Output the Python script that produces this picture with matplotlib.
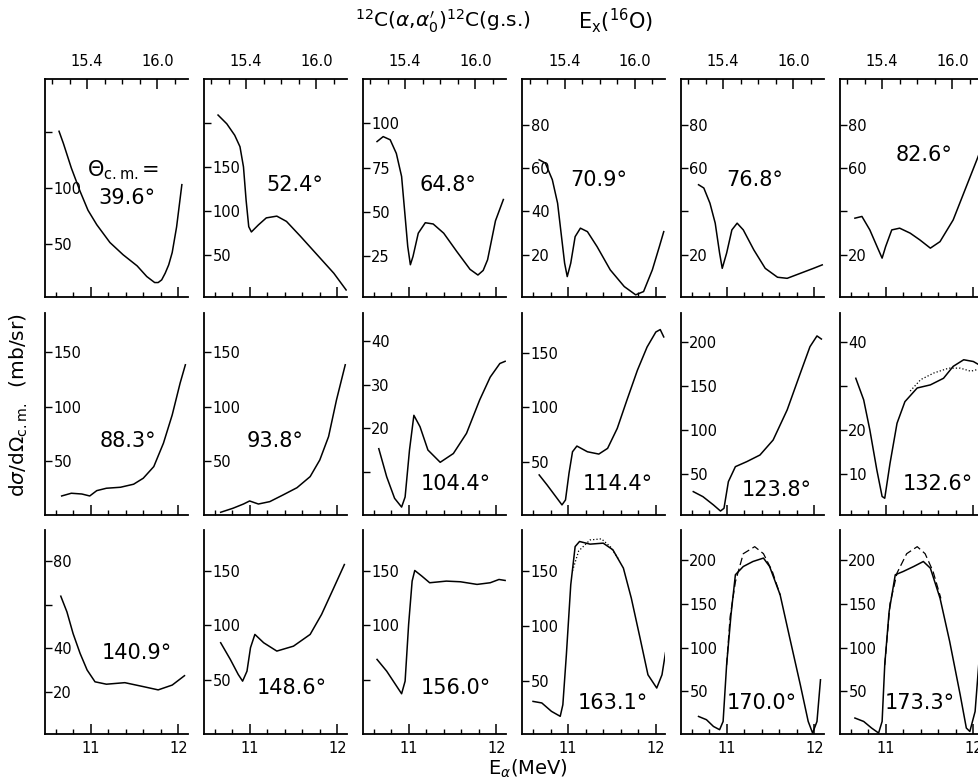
import matplotlib.pyplot as plt
from matplotlib.ticker import FixedLocator

plt.rcParams['font.family'] = 'DejaVu Sans'
plt.rcParams['mathtext.fontset'] = 'dejavusans'

W, H = 979, 780

# E_x(16O) = offset + 0.75 * E_alpha
EX_OFFSET = 7.18
EX_SCALE = 0.75

angles = ['39.6°', '52.4°', '64.8°', '70.9°', '76.8°', '82.6°',
          '88.3°', '93.8°', '104.4°', '114.4°', '123.8°', '132.6°',
          '140.9°', '148.6°', '156.0°', '163.1°', '170.0°', '173.3°']

# excitation functions: E_alpha (MeV) vs dsigma/dOmega (mb/sr)
e_396 = [10.64, 10.69, 10.78, 10.88, 10.97, 11.07, 11.22, 11.37, 11.53, 11.64, 11.70, 11.73, 11.77, 11.81, 11.85, 11.89, 11.93, 11.98, 12.04]
s_396 = [151, 140, 118, 97, 80, 67, 51, 40, 30, 20.4, 16.8, 15, 15, 17.4, 23.4, 30.9, 42, 65, 103]

e_524 = [10.64, 10.74, 10.83, 10.89, 10.93, 10.96, 10.99, 11.02, 11.10, 11.19, 11.31, 11.42, 11.58, 11.77, 11.96, 12.10]
s_524 = [209, 199, 186, 173, 150, 112, 82, 76, 84, 92, 94, 88, 71, 50, 29, 10]

e_648 = [10.64, 10.71, 10.79, 10.86, 10.92, 10.96, 10.99, 11.02, 11.05, 11.11, 11.19, 11.28, 11.40, 11.55, 11.70, 11.79, 11.85, 11.90, 11.99, 12.08]
s_648 = [89.7, 92.5, 90.7, 83, 70, 47.5, 30.5, 20.2, 24.9, 38, 43.9, 43.2, 38, 27.6, 17.6, 14.4, 17, 23, 45, 57]

e_709 = [10.67, 10.74, 10.82, 10.88, 10.92, 10.96, 10.99, 11.03, 11.08, 11.14, 11.22, 11.33, 11.48, 11.64, 11.77, 11.86, 11.96, 12.04, 12.09]
s_709 = [63.8, 62.3, 54.6, 43.8, 30, 16.2, 10, 16.2, 28.4, 32.3, 30.7, 23.8, 13.1, 5.4, 1.6, 3.1, 13.1, 23.8, 30.7]

e_768 = [10.68, 10.74, 10.81, 10.87, 10.92, 10.95, 11.00, 11.06, 11.12, 11.19, 11.31, 11.44, 11.58, 11.69, 11.84, 11.99, 12.09]
s_768 = [52.3, 50.8, 43.8, 34.6, 20.8, 13.8, 20.8, 31.5, 34.6, 31.5, 22.3, 13.8, 9.7, 9.2, 11.5, 13.8, 15.4]

e_826 = [10.65, 10.73, 10.82, 10.91, 10.96, 11.00, 11.07, 11.16, 11.28, 11.39, 11.51, 11.62, 11.77, 11.92, 12.04, 12.08]
s_826 = [36.9, 37.7, 31.5, 23.1, 18.5, 23.8, 31.5, 32.3, 30, 26.9, 23.1, 26.1, 36.1, 51.5, 63.8, 68]

e_883 = [10.67, 10.78, 10.90, 10.99, 11.07, 11.18, 11.34, 11.49, 11.60, 11.72, 11.83, 11.93, 12.02, 12.08]
s_883 = [17.8, 20.3, 19.6, 17.8, 22.7, 24.9, 25.8, 28.6, 34.1, 44.8, 66.3, 92.3, 121.5, 138.4]

e_938 = [10.67, 10.81, 10.93, 11.00, 11.10, 11.23, 11.38, 11.54, 11.69, 11.80, 11.90, 11.99, 12.09]
s_938 = [2.8, 6.5, 10.4, 13.2, 10.4, 12.6, 18.7, 25.4, 35.6, 50.9, 72.4, 106, 138.4]

e_1044 = [10.66, 10.75, 10.84, 10.92, 10.96, 11.01, 11.06, 11.13, 11.22, 11.36, 11.51, 11.66, 11.81, 11.93, 12.04, 12.10]
s_1044 = [15.4, 9.0, 4.1, 2.1, 4.4, 15.1, 23.0, 20.4, 15.1, 12.3, 14.3, 18.9, 26.5, 31.7, 34.8, 35.3]

e_1144 = [10.67, 10.76, 10.86, 10.93, 10.97, 11.01, 11.05, 11.10, 11.22, 11.35, 11.45, 11.56, 11.67, 11.79, 11.90, 12.00, 12.05, 12.09]
s_1144 = [38.5, 29.4, 18.7, 11.2, 15.7, 40, 59.6, 64.8, 59.6, 57.5, 62.7, 80.9, 106.6, 133.9, 155, 168.7, 170.9, 164.2]

e_1238 = [10.62, 10.73, 10.85, 10.93, 10.97, 11.02, 11.10, 11.23, 11.38, 11.53, 11.69, 11.84, 11.95, 12.03, 12.08]
s_1238 = [30, 24.3, 14.9, 8, 11.1, 41.3, 58.3, 64, 71.5, 88.5, 122.6, 164.2, 194.3, 206.5, 203]

e_1326 = [10.66, 10.75, 10.82, 10.90, 10.96, 10.99, 11.05, 11.13, 11.22, 11.36, 11.51, 11.66, 11.77, 11.89, 12.00, 12.07]
s_1326 = [31.7, 26.8, 20, 10.9, 4.9, 4.5, 12.4, 21.5, 26.4, 29.5, 30.2, 31.7, 34.4, 35.9, 35.5, 34.7]
fe_1326 = [11.28, 11.40, 11.55, 11.72, 11.85, 11.97, 12.07]
fs_1326 = [28.8, 31.4, 32.9, 34.0, 34.0, 33.3, 33.8]

e_1409 = [10.66, 10.73, 10.80, 10.88, 10.96, 11.05, 11.18, 11.39, 11.60, 11.77, 11.93, 12.07]
s_1409 = [63.9, 56.7, 46.8, 37.7, 30.1, 24.7, 23.6, 24.3, 22.5, 21, 23.2, 27.5]

e_1486 = [10.67, 10.78, 10.87, 10.92, 10.97, 11.01, 11.06, 11.16, 11.31, 11.50, 11.69, 11.82, 11.96, 12.08]
s_1486 = [84.2, 69, 55.3, 49.2, 58.3, 79.7, 91.8, 84.2, 76.6, 81.1, 91.8, 110, 134.4, 155.5]

e_1560 = [10.64, 10.75, 10.85, 10.92, 10.96, 11.00, 11.04, 11.07, 11.15, 11.24, 11.43, 11.59, 11.78, 11.93, 12.03, 12.10]
s_1560 = [69, 58.3, 46.2, 37.7, 49.2, 100.9, 140.4, 150.1, 145, 138.9, 140.4, 139.8, 137.4, 138.9, 141.9, 141]

e_1631 = [10.60, 10.70, 10.81, 10.91, 10.94, 10.98, 11.03, 11.08, 11.13, 11.25, 11.40, 11.51, 11.63, 11.72, 11.82, 11.91, 12.01, 12.07, 12.11]
s_1631 = [31.9, 30.5, 22.9, 18.4, 28.9, 74.1, 137.4, 172, 176.6, 174.2, 175.1, 169.1, 152.5, 125.4, 89.2, 56, 44, 56, 76]
fe_1631 = [11.05, 11.12, 11.25, 11.38, 11.48, 11.58]
fs_1631 = [150, 168, 178, 179, 172, 160]

e_1700 = [10.68, 10.77, 10.85, 10.92, 10.96, 11.00, 11.05, 11.10, 11.19, 11.30, 11.42, 11.49, 11.61, 11.72, 11.84, 11.93, 11.98, 12.03, 12.07]
s_1700 = [21.5, 17.8, 10.1, 6.4, 15.8, 80.4, 137.4, 183, 192.4, 198.1, 202, 192.4, 160.1, 110.8, 57.6, 15.8, 2.6, 15.8, 63.3]
fe_1700 = [11.00, 11.04, 11.10, 11.19, 11.32, 11.42, 11.52, 11.61]
fs_1700 = [80, 135, 175, 207, 215, 207, 187, 160]

e_1733 = [10.65, 10.75, 10.84, 10.92, 10.96, 10.99, 11.04, 11.11, 11.20, 11.32, 11.43, 11.51, 11.62, 11.73, 11.85, 11.92, 11.96, 12.02, 12.07]
s_1733 = [19.7, 15.8, 8.3, 2.6, 15.8, 80.4, 141.1, 183, 186.7, 192.4, 198.1, 190.5, 156.4, 107, 46.2, 8.3, 4.4, 27.2, 91.8]
fe_1733 = [10.99, 11.05, 11.13, 11.24, 11.36, 11.45, 11.54, 11.63]
fs_1733 = [80, 150, 185, 207, 215, 207, 187, 156]

curves = [(e_396, s_396), (e_524, s_524), (e_648, s_648), (e_709, s_709),
          (e_768, s_768), (e_826, s_826), (e_883, s_883), (e_938, s_938),
          (e_1044, s_1044), (e_1144, s_1144), (e_1238, s_1238), (e_1326, s_1326),
          (e_1409, s_1409), (e_1486, s_1486), (e_1560, s_1560), (e_1631, s_1631),
          (e_1700, s_1700), (e_1733, s_1733)]

# model curves drawn over some of the data
fits = {11: (fe_1326, fs_1326, ':'), 15: (fe_1631, fs_1631, ':'),
        16: (fe_1700, fs_1700, (0, (6, 3))), 17: (fe_1733, fs_1733, (0, (6, 3)))}

ylims = [(2, 198), (2, 250), (2, 125), (0.6, 101), (0.6, 101), (0.6, 101),
         (0.3, 186), (0.3, 186), (0.3, 46.3), (2, 186), (3.5, 232.5), (0.7, 46.5),
         (0.8, 94.2), (1, 187), (1, 187), (2.4, 187), (1.5, 234), (1.5, 234)]

yticks = [[50, 100, 150], [50, 100, 150, 200], [25, 50, 75, 100], [20, 40, 60, 80],
          [20, 40, 60, 80], [20, 40, 60, 80], [50, 100, 150], [50, 100, 150],
          [10, 20, 30, 40], [50, 100, 150], [50, 100, 150, 200], [10, 20, 30, 40],
          [20, 40, 60, 80], [50, 100, 150], [50, 100, 150], [50, 100, 150],
          [50, 100, 150, 200], [50, 100, 150, 200]]

ylabels = [['50', '100', ''], ['50', '100', '150', ''], ['25', '50', '75', '100'],
           ['20', '40', '60', '80'], ['20', '', '60', '80'], ['20', '', '60', '80'],
           ['50', '100', '150'], ['50', '100', '150'], ['', '20', '30', '40'],
           ['50', '100', '150'], ['50', '100', '150', '200'], ['10', '20', '', '40'],
           ['20', '40', '', '80'], ['50', '100', '150'], ['', '100', '150'],
           ['50', '100', '150'], ['50', '100', '150', '200'], ['50', '100', '150', '200']]

# angle label centres in pixels
label_xy = [(127, 198), (295, 185), (448, 185), (599, 180), (755, 180), (924, 155),
            (128, 441), (275, 441), (456, 484), (618, 484), (777, 490), (938, 484),
            (137, 653), (292, 688), (456, 688), (613, 703), (762, 703), (920, 703)]

col_left = [45, 204, 363, 522.5, 681, 840]
row_top = [79, 313, 530]
row_bot = [297, 515, 734]
ax_w = 143


def to_ex(e):
    return EX_OFFSET + EX_SCALE * e


def to_ea(x):
    return (x - EX_OFFSET) / EX_SCALE


fig = plt.figure(figsize=(W / 100, H / 100), dpi=100)

for i, (e, s) in enumerate(curves):
    row, col = divmod(i, 6)
    ax = fig.add_axes([col_left[col] / W, 1 - row_bot[row] / H,
                       ax_w / W, (row_bot[row] - row_top[row]) / H])
    ax.plot(e, s, color='black', lw=1.1)
    if i in fits:
        fe, fs, ls = fits[i]
        ax.plot(fe, fs, color='black', lw=0.9, ls=ls)

    ax.set_xlim(10.48, 12.11)
    ax.set_ylim(*ylims[i])
    for side in ('top', 'right'):
        ax.spines[side].set_visible(False)
    for side in ('left', 'bottom'):
        ax.spines[side].set_linewidth(1.3)

    ax.set_xticks([11, 12])
    ax.xaxis.set_minor_locator(FixedLocator([10.6, 10.8, 11.2, 11.4, 11.6, 11.8]))
    ax.tick_params(axis='x', which='major', direction='in', length=7, width=1.1,
                   labelsize=10.5, pad=5, labelbottom=(row == 2))
    ax.tick_params(axis='x', which='minor', direction='in', length=3.5, width=1)

    ax.set_yticks(yticks[i], labels=ylabels[i])
    ax.tick_params(axis='y', direction='in', length=5, width=1, labelsize=10.5, pad=-6)
    for lab in ax.yaxis.get_majorticklabels():
        lab.set_horizontalalignment('left')

    if row == 0:
        sec = ax.secondary_xaxis('top', functions=(to_ex, to_ea))
        sec.set_xticks([15.4, 16.0], labels=['15.4', '16.0'])
        sec.xaxis.set_minor_locator(FixedLocator([15.1, 15.25, 15.55, 15.7, 15.85, 16.15]))
        sec.tick_params(which='major', direction='in', length=7, width=1.1,
                        labelsize=10.5, pad=7)
        sec.tick_params(which='minor', direction='in', length=3.5, width=1)
        sec.spines['top'].set_linewidth(1.3)

    lx, ly = label_xy[i]
    fig.text(lx / W, 1 - ly / H, angles[i], fontsize=15, ha='center', va='center')

fig.text(123 / W, 1 - 170 / H, 'Θ$_{\\rm c.m.}$=', fontsize=15, ha='center', va='center')

fig.text(443 / W, 1 - 21 / H, r'$^{12}$C($\alpha$,$\alpha^{\prime}_{0}$)$^{12}$C(g.s.)',
         fontsize=14.5, ha='center', va='center')
fig.text(615 / W, 1 - 21 / H, r'E$_{\rm x}$($^{16}$O)', fontsize=15, ha='center', va='center')
fig.text(19 / W, 1 - 405 / H, r'd$\sigma$/d$\Omega_{\rm c.m.}$  (mb/sr)', fontsize=14.5,
         rotation=90, ha='center', va='center')
fig.text(528 / W, 1 - 769 / H, r'E$_{\alpha}$(MeV)', fontsize=14, ha='center', va='center')

fig.savefig('out.png', dpi=100)
